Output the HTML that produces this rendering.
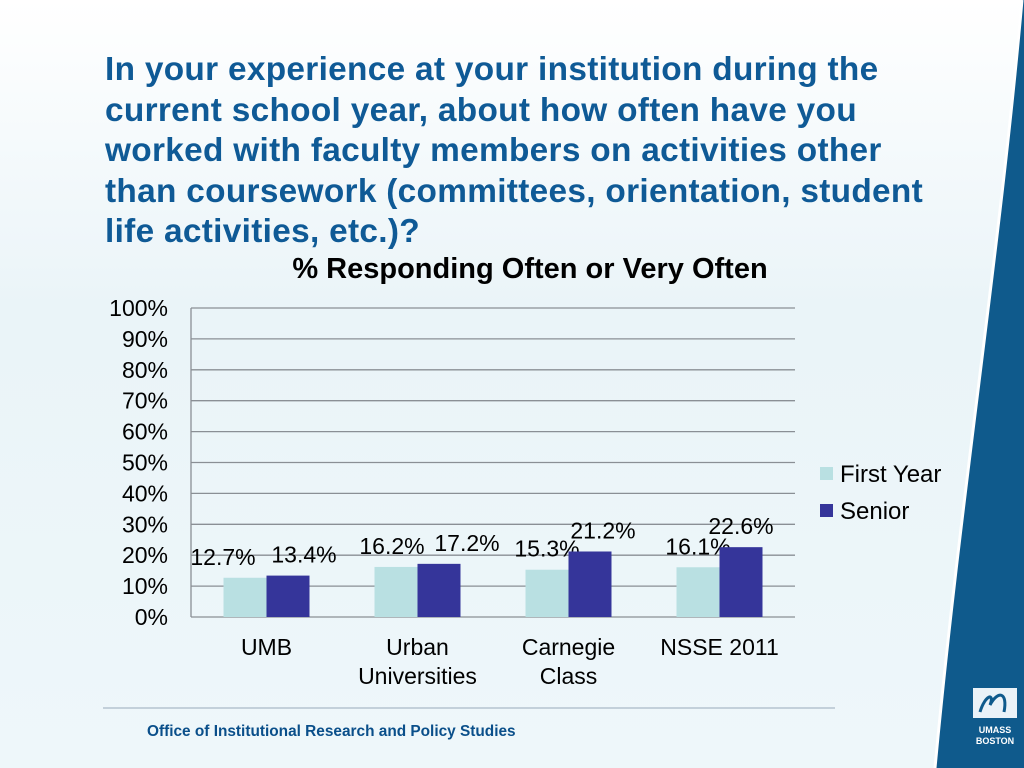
<!DOCTYPE html>
<html><head><meta charset="utf-8"><style>
body{margin:0;width:1024px;height:768px;overflow:hidden;font-family:"Liberation Sans",sans-serif;}
#bg{position:absolute;left:0;top:0;width:1024px;height:768px;background:linear-gradient(180deg,#ffffff 0%,#eaf4f8 40%,#eef7fa 100%);}
h1{position:absolute;left:105px;top:50px;margin:0;font-size:33.4px;line-height:40.5px;color:#0f5a96;font-weight:bold;width:838px;letter-spacing:0.3px;}
#foot{position:absolute;left:147px;top:723px;font-size:15.4px;font-weight:bold;color:#0a4f8a;}
</style></head><body>
<div id="bg"></div>
<svg width="1024" height="768" style="position:absolute;left:0;top:0">
<path d="M1024,0 L1022,0 C1000,250 960,500 935,768 L1024,768 Z" fill="#0f5a8c"/>
<path d="M1022,0 C1000,250 960,500 935,768" stroke="#ffffff" stroke-width="3" fill="none"/>
<g>
<rect x="973" y="688" width="44" height="30" fill="#eaf2f8"/>
<path d="M980,712 C985,695 995,692 990,705 C998,690 1008,692 1004,712" stroke="#0f5a8c" stroke-width="3" fill="none"/>
<text x="995" y="733" font-size="9" font-weight="bold" fill="#fff" text-anchor="middle">UMASS</text>
<text x="995" y="744" font-size="9" font-weight="bold" fill="#fff" text-anchor="middle">BOSTON</text>
</g>
<line x1="103" y1="708" x2="835" y2="708" stroke="#9ab" stroke-width="1"/>
</svg>
<h1>In your experience at your institution during the current school year, about how often have you worked with faculty members on activities other than coursework (committees, orientation, student life activities, etc.)?</h1>
<svg id="chart" width="1024" height="768" style="position:absolute;left:0;top:0"></svg>
<div id="foot">Office of Institutional Research and Policy Studies</div>
<script>
const categories=[["UMB"],["Urban","Universities"],["Carnegie","Class"],["NSSE 2011"]];
const firstYear=[12.7,16.2,15.3,16.1];
const senior=[13.4,17.2,21.2,22.6];
const seriesNames=["First Year","Senior"];
const ticks=[0,10,20,30,40,50,60,70,80,90,100];
const NS="http://www.w3.org/2000/svg";
const svg=document.getElementById('chart');
const X0=191,X1=795,Y0=617,Y1=308;
const y=v=>Y0-(v/100)*(Y0-Y1);
const bw=(X1-X0)/categories.length;
const x=i=>X0+bw*i+bw/2;
function mk(t,a,p){const e=document.createElementNS(NS,t);for(const k in a)e.setAttribute(k,a[k]);(p||svg).appendChild(e);return e;}
const t=mk('text',{x:530,y:278,'font-size':29,'font-weight':'bold','text-anchor':'middle',fill:'#000'});
t.textContent='% Responding Often or Very Often';


ticks.forEach(v=>{
const l=mk('line',{x1:X0,x2:X1,y1:y(v),y2:y(v),stroke:'#8a8f95','stroke-width':1.3});


const tx=mk('text',{x:168,y:y(v)+8,'font-size':23,'text-anchor':'end'});
tx.textContent=v+'%';


});
const ax=mk('line',{x1:X0,x2:X0,y1:Y1,y2:Y0,stroke:'#8a8f95','stroke-width':1.3});


const colors=['#b9e0e2','#35359a'];
const labelShift=[[-22,16],[-4,28],[0,13],[0,0]];
[firstYear,senior].forEach((s,si)=>{
s.forEach((v,i)=>{
const bx=x(i)-43+si*43;
const r=mk('rect',{x:bx,y:y(v),width:43,height:Y0-y(v),fill:colors[si]});


const lb=mk('text',{x:bx+21.5+labelShift[i][si],y:y(v)-13,'font-size':23,'text-anchor':'middle'});
lb.textContent=v.toFixed(1)+'%';


});
});
categories.forEach((c,i)=>{
c.forEach((ln,j)=>{
const tx=mk('text',{x:x(i),y:655+j*29,'font-size':23,'text-anchor':'middle'});
tx.textContent=ln;


});
});
seriesNames.forEach((n,i)=>{
const r=mk('rect',{x:820,y:467+i*37,width:13,height:13,fill:colors[i]});


const tx=mk('text',{x:840,y:482+i*37,'font-size':24});
tx.textContent=n;


});
</script>
</body></html>
